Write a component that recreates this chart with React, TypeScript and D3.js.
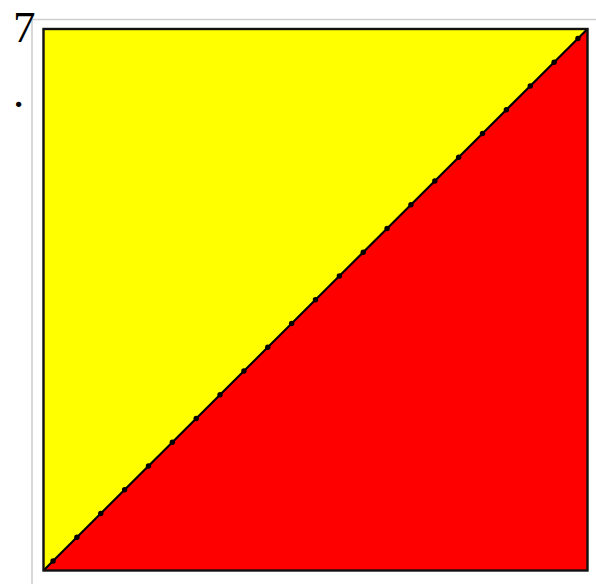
import React, { useEffect, useRef } from 'react';
import * as d3 from 'd3';

// sample positions along the equality line (both axes share them)
const xValues = [1, 2, 3, 4, 5, 6, 7, 8, 9, 10, 11, 12, 13, 14, 15, 16, 17, 18, 19, 20, 21, 22, 23];
const yValues = [1, 2, 3, 4, 5, 6, 7, 8, 9, 10, 11, 12, 13, 14, 15, 16, 17, 18, 19, 20, 21, 22, 23];
const domainExtent = [0.6, 23.4];
const labels = ['7', '.'];

const App = () => {
    const ref = useRef<SVGSVGElement>(null);

    useEffect(() => {
        const svg = d3.select(ref.current);
        svg.selectAll('*').remove();

        const width = 596;
        const height = 584;

        // plot box
        const left = 43.5, top = 29, right = 587.5, bottom = 570.5;

        const x = d3.scaleLinear().domain(domainExtent).range([left, right]);
        const y = d3.scaleLinear().domain(domainExtent).range([bottom, top]);

        // light grey frame
        svg.append('path')
            .attr('d', `M32,${height} L32,19.5 L${width},19.5`)
            .attr('fill', 'none')
            .attr('stroke', '#cfcfcf')
            .attr('stroke-width', 1.6);

        const lo = domainExtent[0], hi = domainExtent[1];

        // upper-left triangle
        svg.append('path')
            .attr('d', `M${x(lo)},${y(lo)} L${x(hi)},${y(hi)} L${x(lo)},${y(hi)} Z`)
            .attr('fill', '#ffff00');

        // lower-right triangle
        svg.append('path')
            .attr('d', `M${x(lo)},${y(lo)} L${x(hi)},${y(hi)} L${x(hi)},${y(lo)} Z`)
            .attr('fill', '#ff0000');

        // diagonal line
        const pts: [number, number][] = [[lo, lo], ...xValues.map((d, i) => [d, yValues[i]] as [number, number]), [hi, hi]];
        const line = d3.line<[number, number]>().x(d => x(d[0])).y(d => y(d[1]));
        svg.append('path')
            .attr('d', line(pts))
            .attr('fill', 'none')
            .attr('stroke', '#000')
            .attr('stroke-width', 2.2);

        svg.selectAll('circle.pt')
            .data(xValues)
            .enter()
            .append('circle')
            .attr('class', 'pt')
            .attr('cx', d => x(d))
            .attr('cy', (d, i) => y(yValues[i]))
            .attr('r', 2.7)
            .attr('fill', '#000');

        // box border
        svg.append('rect')
            .attr('x', left)
            .attr('y', top)
            .attr('width', right - left)
            .attr('height', bottom - top)
            .attr('fill', 'none')
            .attr('stroke', '#111')
            .attr('stroke-width', 2.4);

        svg.append('text')
            .attr('x', 13)
            .attr('y', 42)
            .attr('font-family', '"Liberation Serif", serif')
            .attr('font-size', 45)
            .attr('fill', '#000')
            .text(labels[0]);

        svg.append('text')
            .attr('x', 13)
            .attr('y', 107)
            .attr('font-family', '"Liberation Serif", serif')
            .attr('font-size', 45)
            .attr('fill', '#000')
            .text(labels[1]);
    }, []);

    return (
        <svg ref={ref} width={596} height={584} style={{ position: 'absolute', left: 0, top: 0 }} />
    );
};

export default App;
